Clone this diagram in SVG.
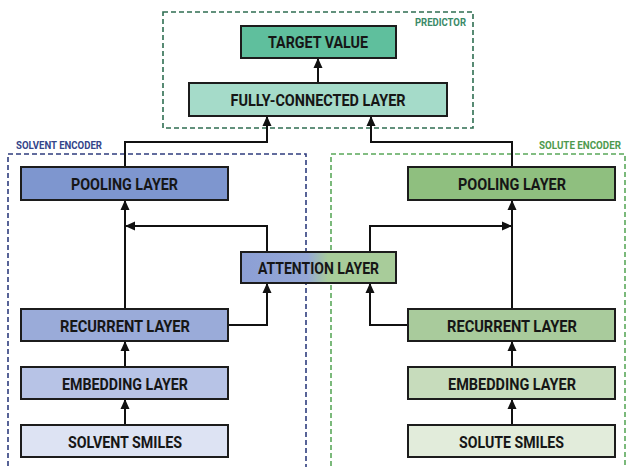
<svg xmlns="http://www.w3.org/2000/svg" width="627" height="467" viewBox="0 0 627 467">
<style>
.box{stroke:#1c1c1c;stroke-width:2}
.lbl{font-family:Roboto,"Liberation Sans",sans-serif;font-weight:bold;font-size:16px;fill:#161616;text-anchor:middle}
.grp{font-family:Roboto,"Liberation Sans",sans-serif;font-weight:bold;font-size:10px}
.dash{fill:none;stroke-width:1.6;stroke-dasharray:5,3}
.con{fill:none;stroke:#111;stroke-width:2}
</style>
<defs>
<marker id="arr" markerUnits="userSpaceOnUse" markerWidth="12" markerHeight="12" viewBox="0 0 12 12" refX="11" refY="6" orient="auto">
<path d="M1,1.5 L11,6 L1,10.5 Z" fill="#111"/>
</marker>
<linearGradient id="attg" x1="241" y1="0" x2="396" y2="0" gradientUnits="userSpaceOnUse">
<stop offset="0" stop-color="#8c9fd5"/>
<stop offset="0.43" stop-color="#95a8d6"/>
<stop offset="0.56" stop-color="#a8cc9a"/>
<stop offset="1" stop-color="#a8cc9a"/>
</linearGradient>
</defs>
<rect width="627" height="467" fill="#ffffff"/>

<g id="predictor-group">
<rect class="dash" x="163" y="12" width="310" height="116" stroke="#2f6e52"/>
<text class="grp" x="466" y="26" text-anchor="end" fill="#3a8a68" textLength="51" lengthAdjust="spacingAndGlyphs">PREDICTOR</text>
</g>
<g id="solvent-encoder-group">
<rect class="dash" x="8" y="154" width="298" height="330" stroke="#2f3d7e"/>
<text class="grp" x="16" y="149" fill="#34458a" textLength="86" lengthAdjust="spacingAndGlyphs">SOLVENT ENCODER</text>
</g>
<g id="solute-encoder-group">
<rect class="dash" x="331" y="154" width="294" height="330" stroke="#5aa85a"/>
<text class="grp" x="621" y="149" text-anchor="end" fill="#4e9a4e" textLength="82" lengthAdjust="spacingAndGlyphs">SOLUTE ENCODER</text>
</g>

<g id="connectors">
<path class="con" d="M318,83 V58" marker-end="url(#arr)"/>
<path class="con" d="M125,167 V142 H267 V116" marker-end="url(#arr)"/>
<path class="con" d="M512,167 V142 H371 V116" marker-end="url(#arr)"/>
<path class="con" d="M267,252 V226 H125" marker-end="url(#arr)"/>
<path class="con" d="M370,252 V226 H512" marker-end="url(#arr)"/>
<path class="con" d="M125,309 V200" marker-end="url(#arr)"/>
<path class="con" d="M512,309 V200" marker-end="url(#arr)"/>
<path class="con" d="M228,325 H267 V283" marker-end="url(#arr)"/>
<path class="con" d="M408,325 H370 V283" marker-end="url(#arr)"/>
<path class="con" d="M125,367 V341" marker-end="url(#arr)"/>
<path class="con" d="M512,367 V341" marker-end="url(#arr)"/>
<path class="con" d="M125,425 V399" marker-end="url(#arr)"/>
<path class="con" d="M512,425 V399" marker-end="url(#arr)"/>
</g>

<g id="target-value">
<rect class="box" x="241" y="26" width="155" height="32" fill="#5fbf9d"/>
<text class="lbl" x="318" y="48" textLength="100" lengthAdjust="spacingAndGlyphs">TARGET VALUE</text>
</g>
<g id="fully-connected">
<rect class="box" x="189" y="83" width="258" height="33" fill="#a5dbc9"/>
<text class="lbl" x="318" y="105.5" textLength="175" lengthAdjust="spacingAndGlyphs">FULLY-CONNECTED LAYER</text>
</g>
<g id="attention">
<rect class="box" x="241" y="252" width="155" height="31" fill="url(#attg)"/>
<text class="lbl" x="318.5" y="273.5" textLength="121" lengthAdjust="spacingAndGlyphs">ATTENTION LAYER</text>
</g>

<g id="solvent-pooling">
<rect class="box" x="21" y="167" width="207" height="33" fill="#7e96cf"/>
<text class="lbl" x="124.5" y="190" textLength="107" lengthAdjust="spacingAndGlyphs">POOLING LAYER</text>
</g>
<g id="solvent-recurrent">
<rect class="box" x="21" y="309" width="207" height="32" fill="#9aabd9"/>
<text class="lbl" x="125" y="331.5" textLength="130" lengthAdjust="spacingAndGlyphs">RECURRENT LAYER</text>
</g>
<g id="solvent-embedding">
<rect class="box" x="21" y="367" width="207" height="32" fill="#b7c3e6"/>
<text class="lbl" x="125" y="389.5" textLength="126" lengthAdjust="spacingAndGlyphs">EMBEDDING LAYER</text>
</g>
<g id="solvent-smiles">
<rect class="box" x="21" y="425" width="207" height="32" fill="#dde3f3"/>
<text class="lbl" x="125" y="447.5" textLength="114" lengthAdjust="spacingAndGlyphs">SOLVENT SMILES</text>
</g>

<g id="solute-pooling">
<rect class="box" x="408" y="167" width="207" height="33" fill="#8fbf7f"/>
<text class="lbl" x="512" y="190" textLength="108" lengthAdjust="spacingAndGlyphs">POOLING LAYER</text>
</g>
<g id="solute-recurrent">
<rect class="box" x="408" y="309" width="207" height="32" fill="#a9cb9c"/>
<text class="lbl" x="512" y="331.5" textLength="130" lengthAdjust="spacingAndGlyphs">RECURRENT LAYER</text>
</g>
<g id="solute-embedding">
<rect class="box" x="408" y="367" width="207" height="32" fill="#c7dcbc"/>
<text class="lbl" x="512" y="389.5" textLength="128" lengthAdjust="spacingAndGlyphs">EMBEDDING LAYER</text>
</g>
<g id="solute-smiles">
<rect class="box" x="408" y="425" width="207" height="32" fill="#e2ecdb"/>
<text class="lbl" x="511.5" y="447.5" textLength="105" lengthAdjust="spacingAndGlyphs">SOLUTE SMILES</text>
</g>
</svg>
